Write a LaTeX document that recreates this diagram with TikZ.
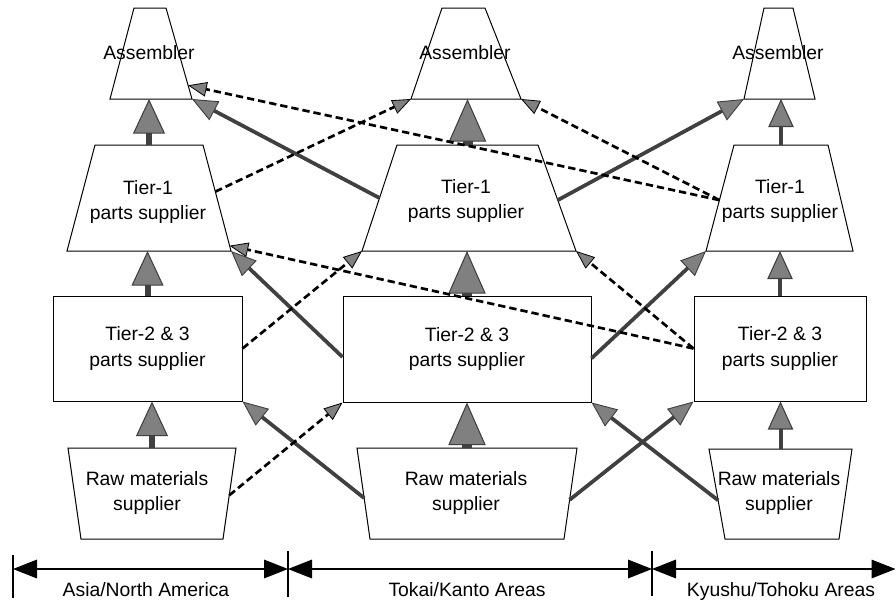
\documentclass[tikz,border=0pt]{standalone}
\usepackage{fontspec}
\setmainfont{Liberation Sans}
\usetikzlibrary{arrows.meta,calc}

% trapezium box: name, top left x, top right x, top y, bottom left x, bottom right x, bottom y
\newcommand{\trap}[7]{%
  \coordinate (#1-tl) at (#2,#4); \coordinate (#1-tr) at (#3,#4);
  \coordinate (#1-bl) at (#5,#7); \coordinate (#1-br) at (#6,#7);
  \coordinate (#1-t) at ($(#1-tl)!0.5!(#1-tr)$);
  \coordinate (#1-b) at ($(#1-bl)!0.5!(#1-br)$);
  \draw[box] (#1-tl) -- (#1-tr) -- (#1-br) -- (#1-bl) -- cycle;}

\begin{document}
\begin{tikzpicture}[x=0.75pt,y=-0.75pt,
    box/.style={line width=0.75pt},
    lbl/.style={font=\fontsize{14.5}{19}\selectfont,align=center,inner sep=0pt},
    blk/.style={draw,line width=0.75pt,inner sep=0pt,align=center,
                font=\fontsize{14.5}{19}\selectfont},
    fatA/.style={line width=4.5pt,black!75,
      -{Triangle[length=26pt,width=24pt,line width=0.8pt,fill=black!50]}},
    fatB/.style={line width=7.5pt,black!75,
      -{Triangle[length=32pt,width=28pt,line width=0.8pt,fill=black!50]}},
    fatC/.style={line width=3pt,black!75,
      -{Triangle[length=21pt,width=19pt,line width=0.8pt,fill=black!50]}},
    solidarr/.style={line width=2.8pt,black!75,
      -{Triangle[length=19pt,width=16pt,line width=0.7pt,fill=black!50]}},
    dasharr/.style={line width=2pt,dash pattern=on 5.5pt off 3pt,
      -{Triangle[length=14pt,width=11pt,line width=0.6pt,fill=black!50]}},
    dim/.style={line width=0.8pt,
      {Triangle[length=18pt,width=14pt]}-{Triangle[length=18pt,width=14pt]}}]
  \useasboundingbox (0,0) rectangle (896,604);

  % Asia/North America
  \trap{asmA}{134}{166}{8}{110}{192}{99}
  \trap{t1A}{95}{203}{145}{67}{231}{251}
  \trap{rawA}{68}{236}{448}{81}{223}{539}
  \node[lbl] (asmAtxt) at (149,53) {Assembler};
  \node[lbl] (t1Atxt) at (148,202) {Tier-1\\parts supplier};
  \node[blk,minimum width=141.75pt,minimum height=78.75pt] (t2A) at (147.5,348.5)
    {Tier-2 \& 3\\parts supplier};
  \node[lbl] (rawAtxt) at (147,493) {Raw materials\\supplier};

  % Tokai/Kanto
  \trap{asmB}{442}{485}{8}{411}{521}{99}
  \trap{t1B}{397}{538}{145}{362}{576}{251}
  \trap{rawB}{357}{577}{448}{370}{564}{539}
  \node[lbl] (asmBtxt) at (465,53) {Assembler};
  \node[lbl] (t1Btxt) at (466,201) {Tier-1\\parts supplier};
  \node[blk,minimum width=186pt,minimum height=79.5pt] (t2B) at (467,349)
    {Tier-2 \& 3\\parts supplier};
  \node[lbl] (rawBtxt) at (466,493) {Raw materials\\supplier};

  % Kyushu/Tohoku
  \trap{asmC}{764}{793}{8}{744}{815}{99}
  \trap{t1C}{734}{828}{145}{706}{853}{251}
  \trap{rawC}{709}{852}{449}{725}{839}{539}
  \node[lbl] (asmCtxt) at (778,53) {Assembler};
  \node[lbl] (t1Ctxt) at (780,201) {Tier-1\\parts supplier};
  \node[blk,minimum width=129pt,minimum height=78.75pt] (t2C) at (780,348.5)
    {Tier-2 \& 3\\parts supplier};
  \node[lbl] (rawCtxt) at (779,493) {Raw materials\\supplier};

  % within one area
  \path[fatA]
    (t1A-t) edge (t1A-t |- asmA-b)
    (t2A.north) edge (t2A.north |- t1A-b)
    (rawA-t) edge (rawA-t |- t2A.south);
  \path[fatB]
    (t1B-t) edge (t1B-t |- asmB-b)
    (t2B.north) edge (t2B.north |- t1B-b)
    (rawB-t) edge (rawB-t |- t2B.south);
  \path[fatC]
    (t1C-t) edge (t1C-t |- asmC-b)
    (t2C.north) edge (t2C.north |- t1C-b)
    (rawC-t) edge (rawC-t |- t2C.south);

  % across areas
  \path[solidarr]
    ($(t1B-tl)!0.5!(t1B-bl)$) edge (asmA-br)
    ($(t1B-tr)!0.52!(t1B-br)$) edge (asmC-bl)
    ([yshift=-6pt]t2B.west) edge (t1A-br)
    ([yshift=-7pt]t2B.east) edge (t1C-bl)
    ($(rawB-tl)!0.55!(rawB-bl)$) edge (t2A.south east)
    ($(rawB-tr)!0.57!(rawB-br)$) edge (t2C.south west)
    ($(rawC-tl)!0.57!(rawC-bl)$) edge (t2B.south east);
  \path[dasharr]
    ($(t1A-tr)!0.44!(t1A-br)$) edge (asmB-bl)
    ($(t1C-tl)!0.52!(t1C-bl)$) edge ($(asmA-tr)!0.85!(asmA-br)$)
    ($(t1C-tl)!0.52!(t1C-bl)$) edge (asmB-br)
    (t2A.east) edge (t1B-bl)
    (t2C.west) edge ($(t1A-tr)!0.95!(t1A-br)$)
    (t2C.west) edge (t1B-br)
    ($(rawA-tr)!0.52!(rawA-br)$) edge (t2B.south west);

  % area scale
  \coordinate (d0) at (13,569);
  \coordinate (d1) at (288,569);
  \coordinate (d2) at (652,569);
  \coordinate (d3) at (895.5,569);
  \draw[line width=0.8pt] (13,555) -- (13,598) (288,551) -- (288,597) (652,551) -- (652,596);
  \draw[dim] (d0) -- (d1);
  \draw[dim] (d1) -- (d2);
  \draw[dim] (d2) -- (d3);
  \node[lbl,anchor=base] (areaA) at (146,596) {Asia/North America};
  \node[lbl,anchor=base] (areaB) at (467,596) {Tokai/Kanto Areas};
  \node[lbl,anchor=base] (areaC) at (781,596) {Kyushu/Tohoku Areas};
\end{tikzpicture}
\end{document}
